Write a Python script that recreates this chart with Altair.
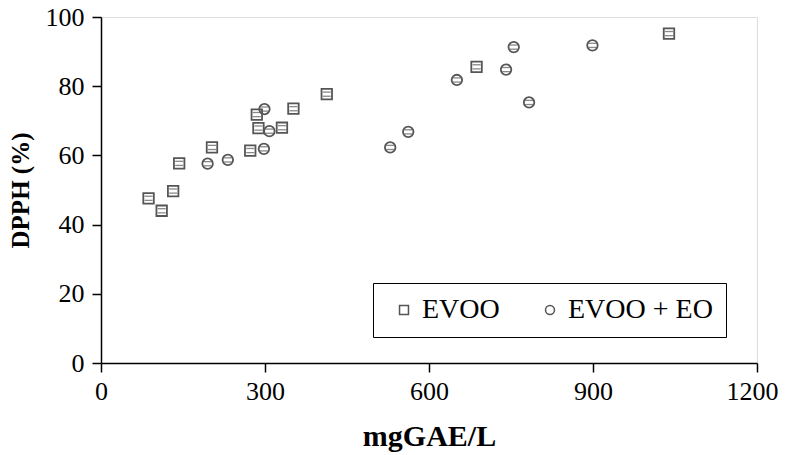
import altair as alt
import pandas as pd

# EVOO (squares)
evoo_x = [87, 111, 132, 143, 203, 273, 285, 288, 331, 352, 413, 687, 1039]
evoo_y = [47.6, 44.0, 49.7, 57.7, 62.3, 61.4, 71.8, 67.9, 68.0, 73.5, 77.7, 85.6, 95.2]
evoo_err = [0.6, 0.6, 0.6, 0.6, 0.6, 0.6, 0.6, 0.6, 0.6, 0.6, 0.6, 0.6, 0.6]

# EVOO + EO (circles)
eo_x = [195, 232, 298, 299, 308, 529, 562, 651, 741, 755, 783, 899]
eo_y = [57.6, 58.7, 61.9, 73.4, 67.0, 62.3, 66.8, 81.8, 84.8, 91.3, 75.3, 91.8]
eo_err = [0.6, 0.6, 0.6, 0.6, 0.6, 0.6, 0.6, 0.6, 0.6, 0.6, 0.6, 0.6]

groups = ["EVOO", "EVOO + EO"]

rows = []
for x, y, e in zip(evoo_x, evoo_y, evoo_err):
    rows.append({"x": x, "y": y, "lo": y - e, "hi": y + e, "g": groups[0]})
for x, y, e in zip(eo_x, eo_y, eo_err):
    rows.append({"x": x, "y": y, "lo": y - e, "hi": y + e, "g": groups[1]})
df = pd.DataFrame(rows)

FONT = "Liberation Serif"
STROKE = "#555555"

xscale = alt.Scale(domain=[0, 1200], nice=False, zero=False)
yscale = alt.Scale(domain=[0, 100], nice=False)

xaxis = alt.Axis(values=[0, 300, 600, 900, 1200], format="d", title="mgGAE/L", grid=False,
                 labelFont=FONT, labelFontSize=26, labelColor="black",
                 labelOffset={"condition": {"test": "datum.value == 1200", "value": -5}, "value": 0},
                 titleFont=FONT, titleFontSize=30, titleFontWeight="bold", titleColor="black",
                 domainColor="black", domainWidth=1.5, tickColor="black", tickWidth=1.5,
                 tickSize=9, labelPadding=6, titlePadding=17, labelFlush=False)
yaxis = alt.Axis(values=[0, 20, 40, 60, 80, 100], format="d", title="DPPH (%)", grid=False,
                 labelFont=FONT, labelFontSize=26, labelColor="black",
                 titleFont=FONT, titleFontSize=25, titleFontWeight="bold", titleColor="black",
                 domainColor="black", domainWidth=1.5, tickColor="black", tickWidth=1.5,
                 tickSize=9, labelPadding=8, titlePadding=12, labelFlush=False)

base = alt.Chart(df)

points = base.mark_point(filled=False, strokeWidth=1.8, color=STROKE, opacity=1, size=110).encode(
    x=alt.X("x:Q", scale=xscale, axis=xaxis),
    y=alt.Y("y:Q", scale=yscale, axis=yaxis),
    shape=alt.Shape("g:N", scale=alt.Scale(domain=groups, range=["square", "circle"]),
                    legend=alt.Legend(orient="none", legendX=272, legendY=266,
                                      direction="horizontal", title=None,
                                      strokeColor="black", padding=13,
                                      labelFont=FONT, labelFontSize=28, labelColor="black",
                                      labelExpr="datum.label == 'EVOO + EO' ? 'EVOO + EO   ' : datum.label",
                                      symbolSize=80, symbolStrokeWidth=1.5,
                                      symbolStrokeColor=STROKE, symbolFillColor="white",
                                      labelOffset=4, columnPadding=32, symbolOffset=4)),
)

tick_lo = base.mark_tick(orient="horizontal", size=8, thickness=1.3, color=STROKE).encode(
    x=alt.X("x:Q", scale=xscale), y=alt.Y("lo:Q", scale=yscale))
tick_hi = base.mark_tick(orient="horizontal", size=8, thickness=1.3, color=STROKE).encode(
    x=alt.X("x:Q", scale=xscale), y=alt.Y("hi:Q", scale=yscale))

chart = alt.layer(points, tick_lo, tick_hi).properties(
    width=656, height=346,
    padding={"left": 93, "top": 9, "right": 21, "bottom": 90},
    autosize="none",
).configure_view(stroke="black", strokeWidth=1.5).configure_legend(
    strokeWidth=2, labelFont=FONT
).configure(background="white", font=FONT)

chart.save("out.html", embed_options={"renderer": "svg", "actions": False})
